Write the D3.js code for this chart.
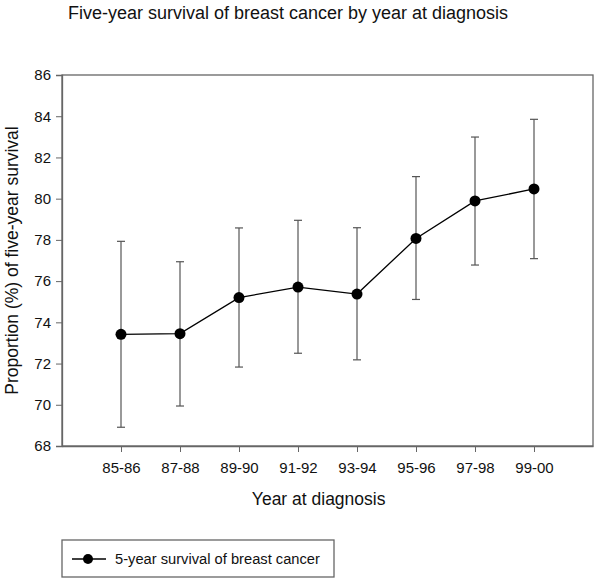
<!DOCTYPE html>
<html><head><meta charset="utf-8">
<script src="https://cdn.jsdelivr.net/npm/d3@7"></script>
<style>body{margin:0;background:#fff}svg{display:block}text{font-family:"Liberation Sans",Arial,sans-serif}</style>
</head><body>
<script>
const categories = ["85-86","87-88","89-90","91-92","93-94","95-96","97-98","99-00"];
const survival = [73.42, 73.45, 75.20, 75.71, 75.37, 78.07, 79.89, 80.47];
const upperCI = [77.93, 76.94, 78.58, 78.95, 78.59, 81.07, 82.99, 83.85];
const lowerCI = [68.91, 69.94, 71.83, 72.50, 72.18, 75.11, 76.78, 77.09];
const yTicks = [68,70,72,74,76,78,80,82,84,86];

const W=600,H=582;
const L=62,R=593,T=75,B=446;
const svg=d3.select("body").append("svg").attr("width",W).attr("height",H);
const x=d3.scalePoint().domain(categories).range([L,R]).padding(1);
const y=d3.scaleLinear().domain([68,86]).range([B,T]);
const axisCol="#666";

svg.append("text").attr("x",288).attr("y",19).attr("text-anchor","middle")
  .attr("font-size",18).attr("fill","#111").text("Five-year survival of breast cancer by year at diagnosis");

// frame
svg.append("rect").attr("x",L).attr("y",T).attr("width",R-L).attr("height",B-T)
  .attr("fill","none").attr("stroke",axisCol).attr("stroke-width",1.3);

const ya=svg.append("g").attr("transform",`translate(${L},0)`)
  .call(d3.axisLeft(y).tickValues(yTicks).tickSize(6).tickPadding(5).tickFormat(d3.format("d")));
ya.select(".domain").attr("stroke",axisCol).attr("stroke-width",1.3);
ya.selectAll(".tick line").attr("stroke",axisCol);
ya.selectAll("text").attr("font-size",15).attr("fill","#111").attr("font-family","Liberation Sans, Arial, sans-serif");

const xa=svg.append("g").attr("transform",`translate(0,${B})`)
  .call(d3.axisBottom(x).tickSize(6).tickSizeOuter(0).tickPadding(10));
xa.select(".domain").attr("stroke",axisCol).attr("stroke-width",1.3);
xa.selectAll(".tick line").attr("stroke",axisCol);
xa.selectAll("text").attr("font-size",15).attr("fill","#111").attr("font-family","Liberation Sans, Arial, sans-serif");

svg.append("text").attr("x",x(categories[0])+x.step()*3.35).attr("y",505).attr("text-anchor","middle")
  .attr("font-size",17.5).attr("fill","#111").text("Year at diagnosis");
svg.append("text").attr("transform",`translate(18,${(T+B)/2}) rotate(-90)`).attr("text-anchor","middle")
  .attr("font-size",17.5).attr("fill","#111").text("Proportion (%) of five-year survival");

const data=categories.map((c,i)=>({c,v:survival[i],hi:upperCI[i],lo:lowerCI[i]}));
const eb=svg.append("g").attr("stroke","#555").attr("stroke-width",1.2);
data.forEach(d=>{
  const cx=x(d.c);
  eb.append("line").attr("x1",cx).attr("x2",cx).attr("y1",y(d.lo)).attr("y2",y(d.hi));
  eb.append("line").attr("x1",cx-4).attr("x2",cx+4).attr("y1",y(d.lo)).attr("y2",y(d.lo));
  eb.append("line").attr("x1",cx-4).attr("x2",cx+4).attr("y1",y(d.hi)).attr("y2",y(d.hi));
});
svg.append("path").datum(data).attr("fill","none").attr("stroke","#000").attr("stroke-width",1.3)
  .attr("d",d3.line().x(d=>x(d.c)).y(d=>y(d.v)));
svg.selectAll("circle.pt").data(data).enter().append("circle").attr("class","pt")
  .attr("cx",d=>x(d.c)).attr("cy",d=>y(d.v)).attr("r",5.5).attr("fill","#000");

// legend
const lg=svg.append("g");
lg.append("rect").attr("x",62).attr("y",540).attr("width",272).attr("height",37)
  .attr("fill","#fff").attr("stroke",axisCol).attr("stroke-width",1.3);
lg.append("line").attr("x1",72).attr("x2",106).attr("y1",559).attr("y2",559).attr("stroke","#000").attr("stroke-width",1.3);
lg.append("circle").attr("cx",88).attr("cy",559).attr("r",5).attr("fill","#000");
lg.append("text").attr("x",115).attr("y",564).attr("font-size",14.7).attr("fill","#111").text("5-year survival of breast cancer");
</script>
</body></html>
